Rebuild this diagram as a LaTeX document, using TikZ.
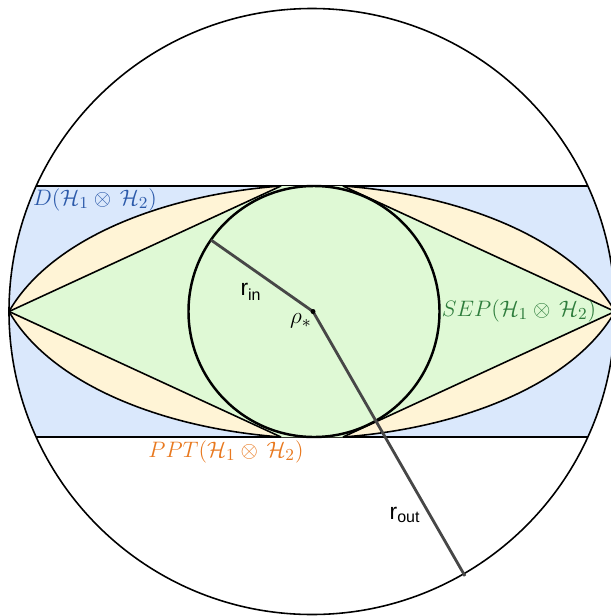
\documentclass[tikz,border=0pt]{standalone}
\usepackage{amsmath}
\usepackage{graphicx}
\usepackage{fontspec}
\newfontfamily\arialfont{Liberation Sans}
\usetikzlibrary{positioning}
\definecolor{bandblue}{RGB}{218,232,252}
\definecolor{pptfill}{RGB}{255,244,214}
\definecolor{sepfill}{RGB}{223,249,213}
\definecolor{dtext}{RGB}{44,90,170}
\definecolor{septext}{RGB}{46,125,60}
\definecolor{ppttext}{RGB}{232,120,30}
\newcommand{\setname}[1]{\scalebox{1.06}{$#1(\mathcal{H}_1\otimes\,\mathcal{H}_2)$}}

\begin{document}
\begin{tikzpicture}[
    x=0.02cm, y=-0.02cm,
    edge/.style={draw=black, line width=0.9pt},
    radiusline/.style={draw=black!72, line width=1.6pt},
    setlabel/.style={font=\fontsize{13}{15}\selectfont, inner sep=0pt},
    rlabel/.style={font=\arialfont\fontsize{13}{15}\selectfont, inner sep=0pt}
]
    \useasboundingbox (0,0) rectangle (611,616);
    \clip (0,0) rectangle (611,616);

    \coordinate (rho) at (313,311.5);
    \coordinate (lv) at (9,311.5);
    \coordinate (rv) at (615,311.5);
    \coordinate (tl) at (281,186);
    \coordinate (tr) at (343,186);
    \coordinate (bl) at (281,437);
    \coordinate (br) at (343,437);
    \coordinate (inend) at (211,240);
    \coordinate (outend) at (465,576);

    % D band
    \begin{scope}
        \clip (312,311.5) circle (303);
        \fill[bandblue] (0,186) rectangle (611,437);
        \draw[edge] (0,186) -- (611,186);
        \draw[edge] (0,437) -- (611,437);
    \end{scope}

    % PPT lens
    \fill[pptfill] (lv) .. controls (50,240) and (160,195) .. (tl) -- (tr)
        .. controls (464,195) and (574,240) .. (rv)
        .. controls (574,383) and (464,428) .. (br) -- (bl)
        .. controls (160,428) and (50,383) .. (lv) -- cycle;

    % SEP
    \fill[sepfill] (lv) -- (tl) -- (tr) -- (rv) -- (br) -- (bl) -- cycle;
    \fill[sepfill] (314,311.5) circle (125.5);

    \draw[edge] (lv) .. controls (50,240) and (160,195) .. (tl);
    \draw[edge] (tr) .. controls (464,195) and (574,240) .. (rv);
    \draw[edge] (rv) .. controls (574,383) and (464,428) .. (br);
    \draw[edge] (bl) .. controls (160,428) and (50,383) .. (lv);
    \draw[edge] (lv) -- (tl);
    \draw[edge] (tr) -- (rv);
    \draw[edge] (rv) -- (br);
    \draw[edge] (bl) -- (lv);
    \draw[draw=black, line width=1.4pt] (314,311.5) circle (125.5);
    \draw[edge] (312,311.5) circle (303);

    % radii
    \draw[radiusline] (rho) -- (inend);
    \draw[radiusline] (rho) -- (outend);
    \fill (rho) circle (2.5);

    \node[setlabel, text=dtext] (dlabel) at (95,200) {\setname{D}};
    \node[setlabel, text=septext] (seplabel) at (519,311) {\setname{SEP}};
    \node[setlabel, text=ppttext] (pptlabel) at (226,452) {\setname{PPT}};
    \node[rlabel] (rinlabel) at (251,292) {r\textsubscript{in}};
    \node[rlabel] (routlabel) at (405,515) {r\textsubscript{out}};
    \node[setlabel] (rholabel) at (301,321) {\scalebox{1.1}{$\rho_*$}};
\end{tikzpicture}
\end{document}
